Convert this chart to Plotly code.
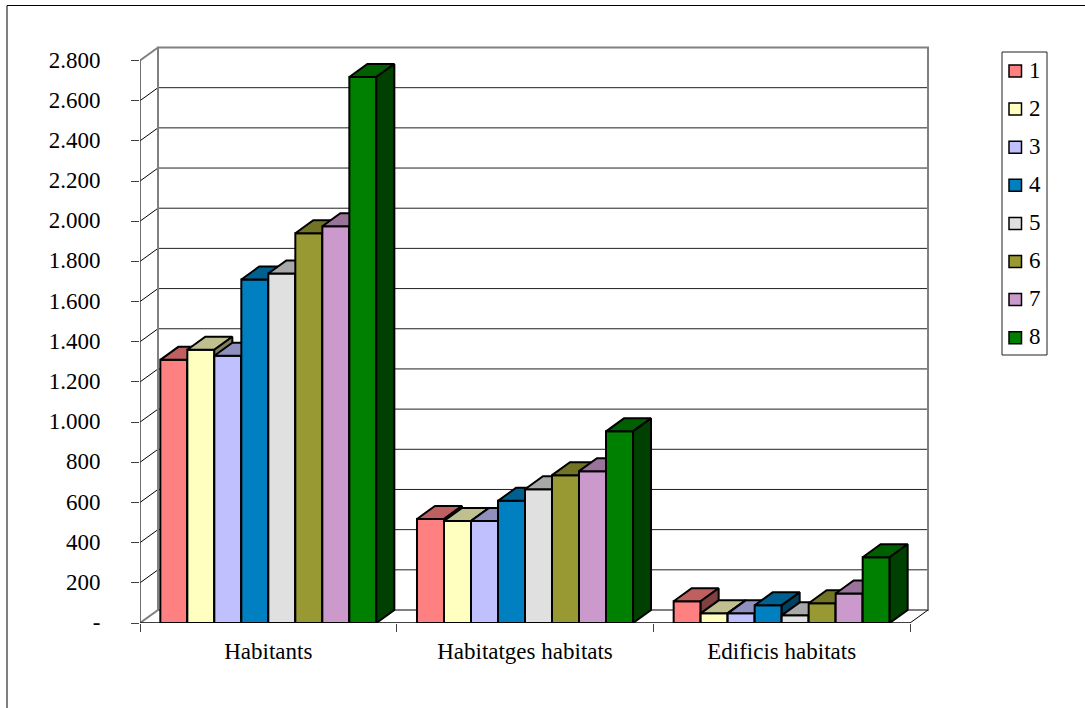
import plotly.graph_objects as go

categories = ["Habitants", "Habitatges habitats", "Edificis habitats"]
series_names = ["1", "2", "3", "4", "5", "6", "7", "8"]
serie_1 = [1310, 518, 108]
serie_2 = [1360, 508, 48]
serie_3 = [1330, 508, 48]
serie_4 = [1710, 608, 88]
serie_5 = [1740, 666, 38]
serie_6 = [1940, 736, 98]
serie_7 = [1975, 756, 147]
serie_8 = [2718, 954, 327]
all_series = [serie_1, serie_2, serie_3, serie_4, serie_5, serie_6, serie_7, serie_8]

y_ticks = [0, 200, 400, 600, 800, 1000, 1200, 1400, 1600, 1800, 2000, 2200, 2400, 2600, 2800]
y_labels = ["-", "200", "400", "600", "800", "1.000", "1.200", "1.400", "1.600", "1.800",
            "2.000", "2.200", "2.400", "2.600", "2.800"]

front_colors = ["#FF8080", "#FFFFC0", "#C0C0FF", "#0080C0", "#E0E0E0", "#999933", "#CC99CC", "#008000"]
top_colors = ["#BF6060", "#BFBF90", "#9090BF", "#006090", "#A8A8A8", "#737326", "#997399", "#006000"]
side_colors = ["#804040", "#808060", "#606080", "#004060", "#707070", "#4D4D1A", "#664D66", "#004000"]

FONT = "Liberation Serif"
FS = 23
W, H = 1085, 708
L, R, T, B = 140, 930, 45, 623          # plot rectangle in pixels
PX_X = 770 / 3                           # pixels per category
PX_Y = 562.5 / 2800                      # pixels per value unit
DX = 18 / PX_X                           # depth of the 3D box, in axis units
DY = 13 / PX_Y
BARGAP = 0.1584
n = len(all_series)
bw = (1 - BARGAP) / n


def px(x):
    return (x - L) / (R - L)


def py(y):
    return (B - y) / (B - T)


fig = go.Figure()
for i, vals in enumerate(all_series):
    lefts = [g - (1 - BARGAP) / 2 + i * bw for g in range(len(vals))]
    fig.add_trace(go.Bar(
        x=list(range(len(vals))), y=vals, name=series_names[i], width=bw, offset=-(1 - BARGAP) / 2 + i * bw,
        marker=dict(color=front_colors[i], line=dict(color="black", width=2)),
        showlegend=False, zorder=i, hoverinfo="x+y+name",
    ))
    tx, ty, sx, sy = [], [], [], []
    for x0, v in zip(lefts, vals):
        x1 = x0 + bw
        tx += [x0, x0 + DX, x1 + DX, x1, x0, None]
        ty += [v, v + DY, v + DY, v, v, None]
        sx += [x1, x1 + DX, x1 + DX, x1, x1, None]
        sy += [0, DY, v + DY, v, 0, None]
    for xs, ys, col in ((tx, ty, top_colors[i]), (sx, sy, side_colors[i])):
        fig.add_trace(go.Scatter(
            x=xs, y=ys, mode="lines", fill="toself", fillcolor=col,
            line=dict(color="black", width=2), showlegend=False, hoverinfo="skip", zorder=i,
        ))

shapes = []
x_l, x_r = -0.5, 2.5
GRAY = "#808080"
for v in y_ticks[1:-1]:
    shapes.append(dict(type="line", x0=x_l, x1=x_l + DX, y0=v, y1=v + DY, layer="below",
                       line=dict(color="black", width=1)))
    shapes.append(dict(type="line", x0=x_l + DX, x1=x_r + DX, y0=v + DY, y1=v + DY, layer="below",
                       line=dict(color="#202020", width=1)))
top = y_ticks[-1]
shapes.append(dict(type="rect", x0=x_l + DX, x1=x_r + DX, y0=DY, y1=top + DY, layer="below",
                   line=dict(color=GRAY, width=2)))
shapes.append(dict(type="line", x0=x_l, x1=x_l + DX, y0=0, y1=DY, layer="below", line=dict(color=GRAY, width=2)))
shapes.append(dict(type="line", x0=x_l, x1=x_l + DX, y0=top, y1=top + DY, layer="below", line=dict(color=GRAY, width=2)))
shapes.append(dict(type="line", x0=x_r, x1=x_r + DX, y0=0, y1=DY, layer="below", line=dict(color="black", width=1)))
shapes.append(dict(type="line", x0=x_l, x1=x_r, y0=0, y1=0, layer="below", line=dict(color="black", width=1.5)))
shapes.append(dict(type="line", x0=x_l, x1=x_l, y0=0, y1=top, layer="below", line=dict(color="#404040", width=1.5)))

# outer frame of the chart area
shapes.append(dict(type="rect", xref="paper", yref="paper", x0=px(7), x1=px(W + 20), y0=py(5.5), y1=py(H + 20),
                   layer="below", line=dict(color="black", width=1)))
# legend
shapes.append(dict(type="rect", xref="paper", yref="paper", x0=px(1002), x1=px(1047), y0=py(52), y1=py(355),
                   line=dict(color="#202020", width=1)))
annotations = []
for i, name in enumerate(series_names):
    yc = 71 + i * 38.1
    shapes.append(dict(type="rect", xref="paper", yref="paper", x0=px(1009), x1=px(1021.5), y0=py(yc - 6), y1=py(yc + 6),
                       fillcolor=front_colors[i], line=dict(color="black", width=1.5)))
    annotations.append(dict(text=name, xref="paper", yref="paper", x=px(1035), y=py(yc - 1), xanchor="center",
                            yanchor="middle", showarrow=False, font=dict(family=FONT, size=FS, color="black")))

fig.update_layout(
    width=W, height=H, autosize=False,
    margin=dict(l=L, r=W - R, t=T, b=H - B, pad=0, autoexpand=False),
    paper_bgcolor="white", plot_bgcolor="white",
    font=dict(family=FONT, size=FS, color="black"),
    barmode="overlay", showlegend=False,
    shapes=shapes, annotations=annotations,
    xaxis=dict(
        range=[x_l, x_l + (R - L) / PX_X], tickmode="array", tickvals=[0, 1, 2], ticktext=categories,
        ticks="outside", ticklen=0, tickwidth=0, showgrid=False, zeroline=False, showline=False,
        ticklabelstandoff=7,
        minor=dict(tickmode="array", tickvals=[-0.5, 0.5, 1.5, 2.5], ticks="outside", ticklen=8,
                   tickwidth=1, tickcolor="#404040", showgrid=False),
        tickfont=dict(family=FONT, size=FS, color="black"),
    ),
    yaxis=dict(
        range=[0, (B - T) / PX_Y], tickmode="array", tickvals=y_ticks, ticktext=y_labels,
        ticks="outside", ticklen=8, tickwidth=1, tickcolor="#404040", showgrid=False, zeroline=False, showline=False,
        ticklabelstandoff=26, ticklabelshift=-1, tickfont=dict(family=FONT, size=FS, color="black"),
    ),
)

fig.write_html("out.html", config={"displayModeBar": False},
               post_script="document.body.style.margin='0';document.documentElement.style.overflow='hidden';")
